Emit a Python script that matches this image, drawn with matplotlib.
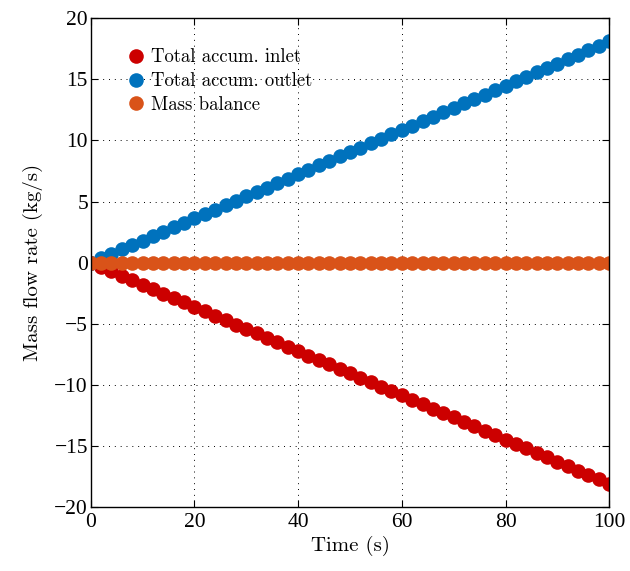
import matplotlib
matplotlib.use("Agg")
import matplotlib.pyplot as plt

# time samples (s)
time_s = [0, 2, 4, 6, 8, 10, 12, 14, 16, 18, 20, 22, 24, 26, 28, 30, 32, 34,
          36, 38, 40, 42, 44, 46, 48, 50, 52, 54, 56, 58, 60, 62, 64, 66, 68,
          70, 72, 74, 76, 78, 80, 82, 84, 86, 88, 90, 92, 94, 96, 98, 100]

# accumulated outlet flow (kg/s)
outlet = [0.00, 0.36, 0.72, 1.09, 1.45, 1.81, 2.17, 2.53, 2.90, 3.26, 3.62,
          3.98, 4.34, 4.71, 5.07, 5.43, 5.79, 6.15, 6.52, 6.88, 7.24, 7.60,
          7.96, 8.33, 8.69, 9.05, 9.41, 9.77, 10.14, 10.50, 10.86, 11.22,
          11.58, 11.95, 12.31, 12.67, 13.03, 13.39, 13.76, 14.12, 14.48,
          14.84, 15.20, 15.57, 15.93, 16.29, 16.65, 17.01, 17.38, 17.74, 18.10]

# accumulated inlet flow (kg/s), enters with opposite sign
inlet = [-v for v in outlet]

# sum of inlet and outlet
balance = [a + b for a, b in zip(inlet, outlet)]

x_ticks = [0, 20, 40, 60, 80, 100]
y_ticks = [-20, -15, -10, -5, 0, 5, 10, 15, 20]

label_font = {"family": "cmr10", "size": 15}
tick_font = "Liberation Serif"

fig = plt.figure(figsize=(6.3, 5.71), dpi=100)
ax = fig.add_axes([0.144, 0.112, 0.823, 0.856])

ms = 10.5
ax.plot(time_s, inlet, "o", color="#CC0000", ms=ms, mec="none",
        label="Total accum. inlet")
ax.plot(time_s, outlet, "o", color="#0072BD", ms=ms, mec="none",
        label="Total accum. outlet")
ax.plot(time_s, balance, "o", color="#D95319", ms=ms, mec="none",
        label="Mass balance")

ax.set_xlim(0, 100)
ax.set_ylim(-20, 20)
ax.set_xticks(x_ticks)
ax.set_yticks(y_ticks)
ax.set_xticklabels([str(t) for t in x_ticks], family=tick_font, fontsize=15.5)
ax.set_yticklabels([str(t).replace("-", "\u2212") for t in y_ticks],
                   family=tick_font, fontsize=15.5)
ax.tick_params(direction="in", top=True, right=True, length=5, width=0.8,
               pad=2)
ax.tick_params(axis="x", pad=4)
for sp in ax.spines.values():
    sp.set_linewidth(1.0)

ax.grid(True, color="black", linestyle=(0, (1, 5)), linewidth=0.7)
ax.set_axisbelow(True)

ax.set_xlabel("Time (s)", fontdict=label_font, labelpad=3)
ax.set_ylabel("Mass flow rate (kg/s)", fontdict=label_font, labelpad=8)

leg = ax.legend(loc="upper left", frameon=False, prop={"family": "cmr10",
                "size": 13.5}, handletextpad=0.0, labelspacing=0.32,
                borderaxespad=1.2, handlelength=1.6, markerscale=1.0)

fig.savefig("out.png", dpi=100)
